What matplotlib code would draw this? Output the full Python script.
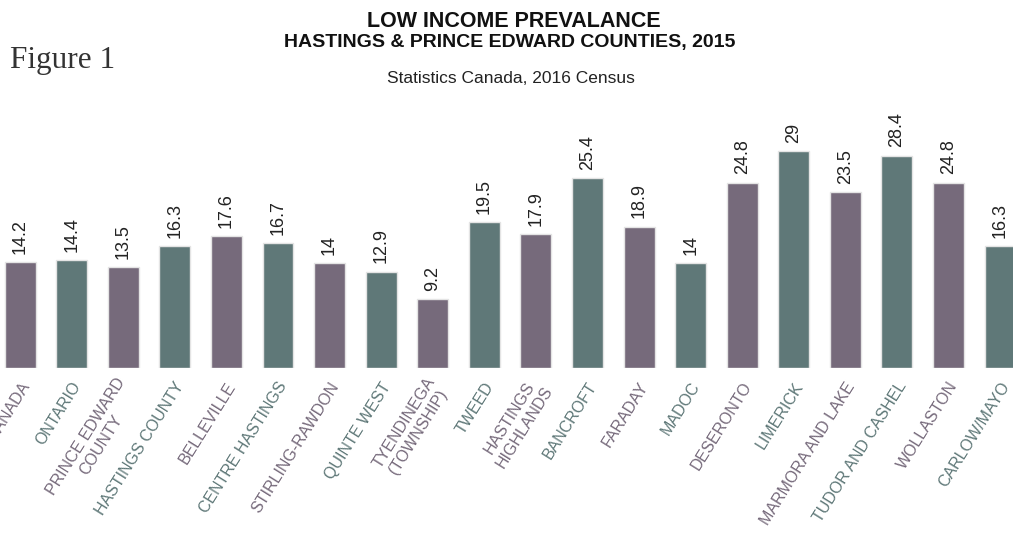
import matplotlib
matplotlib.use("Agg")
import matplotlib.pyplot as plt
import matplotlib.transforms as mtransforms

"""Values read off the census chart"""
places = ["CANADA", "ONTARIO", "PRINCE EDWARD\nCOUNTY", "HASTINGS COUNTY",
          "BELLEVILLE", "CENTRE HASTINGS", "STIRLING-RAWDON", "QUINTE WEST",
          "TYENDINEGA\n(TOWNSHIP)", "TWEED", "HASTINGS\nHIGHLANDS", "BANCROFT",
          "FARADAY", "MADOC", "DESERONTO", "LIMERICK", "MARMORA AND LAKE",
          "TUDOR AND CASHEL", "WOLLASTON", "CARLOW/MAYO"]
low_income = [14.2, 14.4, 13.5, 16.3, 17.6, 16.7, 14, 12.9, 9.2, 19.5,
              17.9, 25.4, 18.9, 14, 24.8, 29, 23.5, 28.4, 24.8, 16.3]

purple = "#766a7b"
teal = "#5f7878"
colors = [purple if i % 2 == 0 else teal for i in range(len(places))]

fig = plt.figure(figsize=(10.13, 5.39), dpi=100)
ax = fig.add_axes([0, 0.317, 1, 0.497])

x = list(range(len(places)))
ax.bar(x, low_income, width=0.6, color=colors, edgecolor="#e4e4e4", linewidth=1)

"""Value labels above each bar"""
for i, v in zip(x, low_income):
    ax.annotate(f"{v:g}", (i, v), xytext=(0, 6), textcoords="offset points",
                rotation=90, ha="center", va="bottom", fontsize=13,
                family="Liberation Sans", color="#222222")

ax.set_xlim(-0.39, 19.25)
ax.set_ylim(0, 35.8)
ax.set_yticks([])
ax.set_xticks(x)
ax.set_xticklabels(places, rotation=58, ha="right", va="center",
                   rotation_mode="anchor", fontsize=11.5,
                   family="Liberation Sans", multialignment="center")
ax.tick_params(axis="x", length=0, pad=11)
offset = mtransforms.ScaledTranslation(6 / 100, 0, fig.dpi_scale_trans)
for lbl, c in zip(ax.get_xticklabels(), colors):
    lbl.set_color(c)
    lbl.set_transform(lbl.get_transform() + offset)
for s in ax.spines.values():
    s.set_visible(False)

"""Titles"""
fig.text(0.507, 0.961, "LOW INCOME PREVALANCE", ha="center", va="center",
         fontsize=15.5, fontweight="bold", family="Liberation Sans", color="#111111")
fig.text(0.503, 0.922, "HASTINGS & PRINCE EDWARD COUNTIES, 2015", ha="center",
         va="center", fontsize=14, fontweight="bold", family="Liberation Sans",
         color="#111111")
fig.text(0.504, 0.854, "Statistics Canada, 2016 Census", ha="center", va="center",
         fontsize=12.5, family="Liberation Sans", color="#222222")
fig.text(0.01, 0.874, "Figure 1", ha="left", va="baseline", fontsize=22.5,
         family="Liberation Serif", color="#333333")

fig.savefig("out.png", dpi=100)
